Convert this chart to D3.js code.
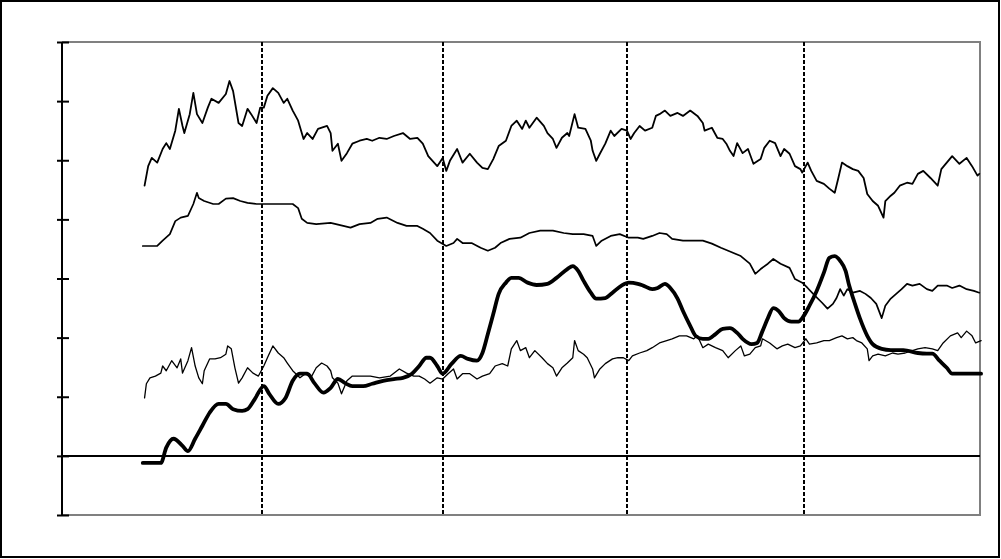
<!DOCTYPE html>
<html><head><meta charset="utf-8">
<script src="https://cdn.jsdelivr.net/npm/d3@7"></script>
<style>html,body{margin:0;padding:0;background:#fff;}svg{display:block;}</style>
</head><body>
<svg id="chart" width="1001" height="559"></svg>
<script>
// x values are fractional years, y values in chart units
const yTicks = [-1, 0, 1, 2, 3, 4, 5, 6, 7];
const eventLines = [2000.00, 2001.00, 2002.02, 2003.00];

const seriesTop = [
[1999.35,4.57],[1999.37,4.90],[1999.39,5.04],[1999.42,4.96],[1999.45,5.19],[1999.47,5.29],[1999.49,5.19],[1999.52,5.50],[1999.54,5.87],[1999.56,5.58],
[1999.57,5.46],[1999.60,5.78],[1999.62,6.14],[1999.64,5.78],[1999.67,5.63],[1999.70,5.89],[1999.72,6.04],[1999.76,5.97],[1999.80,6.12],[1999.82,6.34],
[1999.84,6.17],[1999.87,5.63],[1999.89,5.58],[1999.92,5.87],[1999.94,5.78],[1999.97,5.63],[1999.99,5.89],[2000.01,5.89],[2000.03,6.09],[2000.06,6.22],
[2000.09,6.14],[2000.12,5.97],[2000.14,6.04],[2000.17,5.84],[2000.20,5.67],[2000.23,5.36],[2000.25,5.46],[2000.28,5.36],[2000.31,5.53],[2000.36,5.58],
[2000.38,5.46],[2000.39,5.16],[2000.42,5.28],[2000.44,4.99],[2000.47,5.12],[2000.50,5.28],[2000.54,5.33],[2000.58,5.36],[2000.61,5.33],[2000.65,5.38],
[2000.69,5.36],[2000.73,5.41],[2000.78,5.46],[2000.82,5.36],[2000.86,5.38],[2000.89,5.28],[2000.92,5.07],[2000.97,4.90],[2001.00,5.04],[2001.02,4.82],
[2001.04,4.99],[2001.08,5.19],[2001.11,4.96],[2001.15,5.11],[2001.19,4.96],[2001.22,4.87],[2001.25,4.85],[2001.28,5.02],[2001.31,5.24],[2001.35,5.33],
[2001.38,5.58],[2001.41,5.67],[2001.44,5.53],[2001.46,5.67],[2001.48,5.55],[2001.52,5.72],[2001.56,5.58],[2001.58,5.46],[2001.61,5.36],[2001.63,5.21],
[2001.66,5.38],[2001.69,5.46],[2001.70,5.41],[2001.73,5.78],[2001.75,5.55],[2001.79,5.53],[2001.82,5.33],[2001.83,5.16],[2001.85,4.99],[2001.87,5.11],
[2001.90,5.28],[2001.93,5.50],[2001.95,5.41],[2001.99,5.53],[2002.02,5.50],[2002.04,5.36],[2002.06,5.46],[2002.09,5.58],[2002.12,5.50],[2002.16,5.55],
[2002.18,5.75],[2002.20,5.78],[2002.23,5.84],[2002.26,5.75],[2002.30,5.80],[2002.33,5.75],[2002.37,5.84],[2002.41,5.75],[2002.44,5.63],[2002.45,5.50],
[2002.49,5.55],[2002.52,5.38],[2002.55,5.36],[2002.57,5.28],[2002.59,5.16],[2002.61,5.07],[2002.63,5.29],[2002.66,5.12],[2002.69,5.19],[2002.72,4.94],
[2002.76,5.02],[2002.78,5.21],[2002.81,5.33],[2002.84,5.29],[2002.87,5.07],[2002.89,5.19],[2002.92,5.11],[2002.95,4.90],[2002.98,4.85],[2002.99,4.79],
[2003.02,4.96],[2003.04,4.82],[2003.07,4.65],[2003.11,4.60],[2003.14,4.52],[2003.17,4.45],[2003.19,4.70],[2003.21,4.96],[2003.24,4.90],[2003.27,4.85],
[2003.30,4.82],[2003.33,4.70],[2003.35,4.43],[2003.38,4.31],[2003.41,4.23],[2003.44,4.03],[2003.45,4.31],[2003.48,4.40],[2003.50,4.45],[2003.53,4.57],
[2003.57,4.62],[2003.60,4.60],[2003.63,4.77],[2003.66,4.82],[2003.70,4.70],[2003.74,4.57],[2003.76,4.85],[2003.79,4.96],[2003.82,5.07],[2003.86,4.94],
[2003.90,5.04],[2003.93,4.90],[2003.96,4.74],[2003.97,4.77]
];

const seriesSecond = [
[1999.34,3.55],[1999.42,3.55],[1999.45,3.64],[1999.49,3.75],[1999.52,3.97],[1999.55,4.03],[1999.59,4.06],[1999.62,4.26],[1999.64,4.45],[1999.65,4.36],
[1999.68,4.31],[1999.73,4.26],[1999.76,4.26],[1999.80,4.35],[1999.84,4.36],[1999.88,4.31],[1999.92,4.28],[1999.97,4.26],[2000.01,4.26],[2000.08,4.26],
[2000.14,4.26],[2000.17,4.26],[2000.20,4.19],[2000.22,4.01],[2000.25,3.94],[2000.30,3.92],[2000.38,3.94],[2000.45,3.89],[2000.49,3.86],[2000.54,3.92],
[2000.60,3.94],[2000.64,4.01],[2000.69,4.03],[2000.75,3.94],[2000.80,3.89],[2000.86,3.89],[2000.89,3.84],[2000.93,3.77],[2000.97,3.64],[2001.02,3.55],
[2001.06,3.60],[2001.08,3.67],[2001.11,3.60],[2001.16,3.60],[2001.21,3.52],[2001.25,3.47],[2001.29,3.52],[2001.32,3.60],[2001.37,3.67],[2001.43,3.69],
[2001.48,3.77],[2001.54,3.81],[2001.61,3.81],[2001.67,3.77],[2001.72,3.75],[2001.78,3.75],[2001.83,3.72],[2001.85,3.55],[2001.88,3.64],[2001.93,3.72],
[2001.98,3.75],[2002.03,3.69],[2002.08,3.69],[2002.11,3.67],[2002.16,3.72],[2002.20,3.77],[2002.24,3.75],[2002.27,3.67],[2002.33,3.64],[2002.39,3.64],
[2002.44,3.64],[2002.49,3.59],[2002.54,3.52],[2002.58,3.47],[2002.65,3.38],[2002.70,3.25],[2002.73,3.08],[2002.76,3.16],[2002.80,3.25],[2002.83,3.33],
[2002.87,3.25],[2002.92,3.18],[2002.95,2.99],[2002.99,2.93],[2003.02,2.84],[2003.06,2.71],[2003.10,2.59],[2003.13,2.49],[2003.16,2.57],[2003.18,2.67],
[2003.20,2.82],[2003.22,2.71],[2003.24,2.82],[2003.27,2.76],[2003.31,2.79],[2003.34,2.74],[2003.37,2.67],[2003.40,2.57],[2003.43,2.33],[2003.45,2.54],
[2003.48,2.66],[2003.51,2.74],[2003.54,2.82],[2003.57,2.91],[2003.60,2.88],[2003.64,2.91],[2003.68,2.82],[2003.71,2.79],[2003.74,2.88],[2003.79,2.88],
[2003.82,2.84],[2003.86,2.88],[2003.90,2.82],[2003.94,2.79],[2003.97,2.76]
];

const seriesThird = [
[1999.35,0.98],[1999.36,1.22],[1999.38,1.32],[1999.41,1.35],[1999.44,1.40],[1999.45,1.52],[1999.47,1.44],[1999.50,1.61],[1999.53,1.49],[1999.55,1.64],
[1999.56,1.40],[1999.59,1.61],[1999.61,1.83],[1999.63,1.52],[1999.65,1.32],[1999.67,1.22],[1999.68,1.44],[1999.71,1.64],[1999.74,1.64],[1999.77,1.66],
[1999.80,1.72],[1999.81,1.86],[1999.83,1.81],[1999.85,1.49],[1999.87,1.23],[1999.89,1.32],[1999.92,1.49],[1999.95,1.40],[1999.98,1.35],[2000.01,1.52],
[2000.03,1.66],[2000.06,1.86],[2000.09,1.74],[2000.12,1.66],[2000.14,1.57],[2000.17,1.44],[2000.21,1.32],[2000.24,1.39],[2000.27,1.32],[2000.30,1.49],
[2000.33,1.57],[2000.36,1.52],[2000.38,1.44],[2000.39,1.32],[2000.42,1.23],[2000.44,1.05],[2000.47,1.27],[2000.50,1.35],[2000.54,1.35],[2000.60,1.35],
[2000.65,1.32],[2000.71,1.35],[2000.76,1.47],[2000.80,1.40],[2000.84,1.35],[2000.87,1.35],[2000.90,1.30],[2000.93,1.23],[2000.97,1.32],[2001.00,1.30],
[2001.03,1.39],[2001.06,1.47],[2001.08,1.30],[2001.11,1.39],[2001.15,1.39],[2001.19,1.30],[2001.22,1.35],[2001.26,1.39],[2001.29,1.52],[2001.33,1.56],
[2001.36,1.52],[2001.38,1.81],[2001.41,1.95],[2001.43,1.78],[2001.46,1.83],[2001.48,1.66],[2001.51,1.78],[2001.55,1.66],[2001.58,1.56],[2001.61,1.49],
[2001.63,1.35],[2001.66,1.49],[2001.69,1.57],[2001.72,1.66],[2001.73,1.95],[2001.75,1.78],[2001.78,1.72],[2001.80,1.66],[2001.83,1.47],[2001.84,1.32],
[2001.87,1.47],[2001.90,1.56],[2001.94,1.64],[2001.97,1.66],[2002.00,1.66],[2002.03,1.61],[2002.05,1.69],[2002.09,1.74],[2002.13,1.78],[2002.16,1.83],
[2002.20,1.91],[2002.24,1.95],[2002.27,1.98],[2002.31,2.03],[2002.35,2.03],[2002.39,1.98],[2002.41,2.03],[2002.44,1.83],[2002.47,1.89],[2002.51,1.83],
[2002.55,1.78],[2002.58,1.66],[2002.62,1.78],[2002.65,1.86],[2002.67,1.69],[2002.70,1.72],[2002.73,1.83],[2002.76,1.86],[2002.77,1.98],[2002.81,1.91],
[2002.85,1.81],[2002.88,1.86],[2002.91,1.89],[2002.95,1.83],[2002.98,1.86],[2003.01,1.98],[2003.03,1.89],[2003.07,1.91],[2003.11,1.95],[2003.14,1.95],
[2003.18,2.00],[2003.21,2.03],[2003.24,1.98],[2003.27,2.00],[2003.29,1.95],[2003.32,1.91],[2003.35,1.81],[2003.36,1.61],[2003.38,1.69],[2003.41,1.72],
[2003.45,1.69],[2003.49,1.74],[2003.52,1.72],[2003.56,1.74],[2003.60,1.78],[2003.63,1.81],[2003.67,1.83],[2003.71,1.81],[2003.74,1.78],[2003.77,1.91],
[2003.81,2.03],[2003.85,2.08],[2003.87,2.00],[2003.90,2.11],[2003.93,2.03],[2003.95,1.91],[2003.98,1.95]
];

const seriesThick = [
[1999.34,-0.12],[1999.44,-0.12],[1999.47,0.14],[1999.51,0.29],[1999.56,0.17],[1999.59,0.08],[1999.63,0.29],[1999.67,0.51],[1999.71,0.73],[1999.76,0.88],
[1999.80,0.88],[1999.84,0.79],[1999.89,0.76],[1999.92,0.79],[1999.96,0.96],[2000.01,1.18],[2000.04,1.05],[2000.09,0.88],[2000.13,0.98],[2000.17,1.27],
[2000.21,1.39],[2000.25,1.39],[2000.29,1.23],[2000.34,1.07],[2000.38,1.15],[2000.42,1.30],[2000.46,1.23],[2000.50,1.18],[2000.56,1.18],[2000.61,1.22],
[2000.67,1.27],[2000.73,1.30],[2000.78,1.32],[2000.83,1.39],[2000.87,1.52],[2000.91,1.66],[2000.93,1.66],[2000.97,1.52],[2001.00,1.39],[2001.05,1.56],
[2001.10,1.69],[2001.14,1.64],[2001.19,1.61],[2001.22,1.74],[2001.25,2.06],[2001.28,2.40],[2001.31,2.74],[2001.35,2.93],[2001.38,3.01],[2001.42,3.01],
[2001.47,2.93],[2001.52,2.89],[2001.58,2.91],[2001.63,3.01],[2001.69,3.16],[2001.72,3.21],[2001.75,3.13],[2001.78,2.96],[2001.82,2.76],[2001.85,2.66],
[2001.90,2.67],[2001.94,2.76],[2001.99,2.88],[2002.03,2.93],[2002.08,2.91],[2002.11,2.88],[2002.16,2.82],[2002.19,2.84],[2002.23,2.91],[2002.26,2.84],
[2002.30,2.66],[2002.33,2.45],[2002.37,2.20],[2002.40,2.03],[2002.44,1.98],[2002.47,1.98],[2002.51,2.06],[2002.55,2.15],[2002.59,2.16],[2002.63,2.08],
[2002.66,1.98],[2002.71,1.89],[2002.74,1.91],[2002.77,2.11],[2002.80,2.33],[2002.83,2.50],[2002.86,2.45],[2002.89,2.33],[2002.93,2.27],[2002.97,2.27],
[2002.99,2.33],[2003.03,2.54],[2003.07,2.79],[2003.11,3.10],[2003.14,3.35],[2003.17,3.38],[2003.20,3.30],[2003.23,3.13],[2003.25,2.88],[2003.28,2.59],
[2003.31,2.32],[2003.35,2.03],[2003.38,1.89],[2003.43,1.81],[2003.48,1.79],[2003.55,1.79],[2003.63,1.74],[2003.68,1.73],[2003.71,1.73],[2003.75,1.61],
[2003.79,1.49],[2003.82,1.39],[2003.88,1.39],[2003.98,1.39]
];

const svg = d3.select("#chart");
const pLeft = 62, pRight = 980, pTop = 42, pBottom = 515;

const x = d3.scaleLinear().domain([1998.893, 2003.974]).range([pLeft, pRight]);
const y = d3.scaleLinear().domain([-1, 7]).range([pBottom, pTop]);

// outer frame
svg.append("rect").attr("x", 1).attr("y", 1).attr("width", 998).attr("height", 556)
  .attr("fill", "#fff").attr("stroke", "#000").attr("stroke-width", 2);

// plot frame (gray top/right/bottom)
svg.append("path")
  .attr("d", `M${pLeft},${pTop}H${pRight}V${pBottom}H${pLeft}`)
  .attr("fill", "none").attr("stroke", "#808080").attr("stroke-width", 2);

// event dashed lines
svg.append("g").selectAll("line").data(eventLines).join("line")
  .attr("x1", d => Math.round(x(d))).attr("x2", d => Math.round(x(d)))
  .attr("y1", pTop).attr("y2", pBottom)
  .attr("stroke", "#000").attr("stroke-width", 2).attr("stroke-dasharray", "4,2");

// zero line
svg.append("line").attr("x1", pLeft).attr("x2", pRight)
  .attr("y1", Math.round(y(0))).attr("y2", Math.round(y(0))).attr("stroke", "#000").attr("stroke-width", 2);

// y axis
const yAxis = svg.append("g").attr("transform", `translate(${pLeft},0)`)
  .call(d3.axisLeft(y).tickValues(yTicks).tickFormat(""));
yAxis.select(".domain").attr("stroke", "#000").attr("stroke-width", 2).attr("d", `M0,${pTop}V${pBottom}`);
yAxis.selectAll(".tick line").attr("x1", -5).attr("x2", 7).attr("stroke", "#000").attr("stroke-width", 2);

const line = d3.line().x(d => x(d[0])).y(d => y(d[1]));
const smooth = d3.line().x(d => x(d[0])).y(d => y(d[1])).curve(d3.curveMonotoneX);

function draw(data, gen, w) {
  svg.append("path").datum(data).attr("d", gen)
    .attr("fill", "none").attr("stroke", "#000").attr("stroke-width", w)
    .attr("stroke-linejoin", "round").attr("stroke-linecap", "round");
}
draw(seriesTop, line, 1.8);
draw(seriesSecond, line, 1.7);
draw(seriesThird, line, 1.3);
draw(seriesThick, smooth, 3.8);
</script>
</body></html>
